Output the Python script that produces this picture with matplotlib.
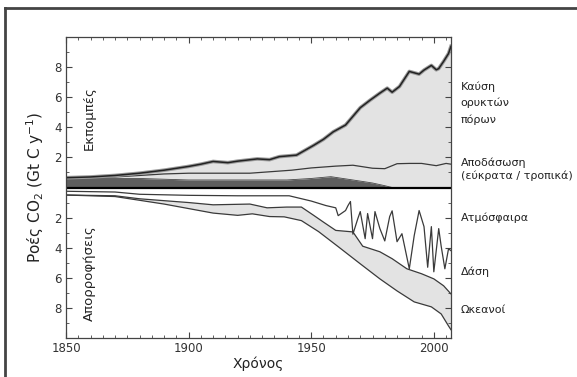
import numpy as np
import matplotlib
matplotlib.use('Agg')
import matplotlib.pyplot as plt
from matplotlib.lines import Line2D
from matplotlib.ticker import MultipleLocator, FixedLocator, FuncFormatter

# emissions (Gt C / yr)
TOTAL_YEARS = [1850, 1860, 1870, 1880, 1890, 1900, 1905, 1910, 1916, 1920, 1928, 1933, 1937,
               1944, 1951, 1955, 1959, 1964, 1970, 1974, 1978, 1981, 1983, 1986, 1990, 1994,
               1996, 1999, 2001, 2002, 2004, 2006, 2007]
TOTAL = [0.65, 0.7, 0.8, 0.95, 1.15, 1.4, 1.55, 1.73, 1.65, 1.75, 1.9, 1.85, 2.05,
         2.15, 2.8, 3.2, 3.7, 4.15, 5.3, 5.8, 6.27, 6.6, 6.33, 6.71, 7.71, 7.53,
         7.8, 8.11, 7.82, 7.9, 8.38, 8.9, 9.38]

LANDUSE_YEARS = [1850, 1870, 1880, 1890, 1900, 1910, 1925, 1942, 1950, 1960, 1967, 1975, 1980,
                 1985, 1990, 1995, 2001, 2005, 2007]
LANDUSE = [0.65, 0.7, 0.8, 0.9, 0.95, 0.95, 0.95, 1.15, 1.3, 1.42, 1.48, 1.28, 1.25,
           1.58, 1.6, 1.6, 1.45, 1.6, 1.55]

TEMPERATE_YEARS = [1850, 1880, 1900, 1940, 1950, 1958, 1967, 1975, 1980, 1983, 2007]
TEMPERATE = [0.6, 0.6, 0.5, 0.5, 0.6, 0.72, 0.5, 0.3, 0.12, 0.0, 0.0]

# sinks (negative)
ATM_YEARS = [1850, 1870, 1880, 1900, 1920, 1941, 1950, 1956, 1960, 1961, 1964, 1965, 1966,
             1967, 1969, 1970, 1972, 1973, 1975, 1976, 1978, 1980, 1982, 1983, 1985, 1987,
             1990, 1992, 1994, 1996, 1997.5, 1999, 2000, 2002, 2003, 2004.5, 2006, 2007]
ATM = [-0.25, -0.3, -0.45, -0.52, -0.55, -0.55, -0.9, -1.2, -1.35, -1.87, -1.53, -1.2, -0.93,
       -3.1, -2.07, -1.6, -3.4, -1.73, -3.4, -1.6, -2.73, -3.55, -1.93, -1.55, -3.6, -3.07,
       -5.4, -3.2, -1.53, -2.6, -5.3, -2.6, -5.6, -2.73, -3.9, -5.4, -4.07, -4.2]

LAND_YEARS = [1850, 1870, 1880, 1900, 1910, 1925, 1932, 1940, 1946, 1951, 1955, 1960, 1967,
              1971, 1978, 1983, 1989, 1995, 2000, 2004, 2007]
LAND = [-0.5, -0.55, -0.75, -1.0, -1.15, -1.1, -1.35, -1.3, -1.3, -1.85, -2.3, -2.85, -2.95,
        -3.9, -4.27, -4.73, -5.4, -5.73, -6.07, -6.53, -7.07]

OCEAN_YEARS = [1850, 1870, 1880, 1890, 1900, 1910, 1920, 1926, 1933, 1939, 1946, 1953, 1961,
               1970, 1978, 1985, 1992, 1999, 2003, 2006, 2007]
OCEAN = [-0.5, -0.6, -0.85, -1.1, -1.4, -1.7, -1.85, -1.75, -1.93, -1.95, -2.2, -2.93, -3.93,
         -5.07, -6.07, -6.87, -7.6, -7.93, -8.4, -9.2, -9.45]

YTICKS = [-8, -6, -4, -2, 2, 4, 6, 8]
XTICKS = [1850, 1900, 1950, 2000]

# right-hand labels, their heights (axes fraction) and line spacing
RIGHT_LABELS = ['Καύση\nορυκτών\nπόρων', 'Αποδάσωση\n(εύκρατα / τροπικά)',
                'Ατμόσφαιρα', 'Δάση', 'Ωκεανοί']
RIGHT_POS = [0.78, 0.562, 0.4, 0.22, 0.093]
RIGHT_SPACING = [1.75, 1.3, 1.2, 1.2, 1.2]

LINE = '#3a3a3a'
LIGHT = '#e3e3e3'
DARK = '#5e5e5e'


def poly(ax, x1, y1, x2, y2, color):
    xs = np.concatenate([x1, x2[::-1]])
    ys = np.concatenate([y1, y2[::-1]])
    ax.fill(xs, ys, color=color, lw=0)


def main():
    fig = plt.figure(figsize=(5.77, 3.77), dpi=100)
    ax = fig.add_axes([0.1144, 0.1034, 0.6672, 0.7985])

    ty, tv = np.array(TOTAL_YEARS), np.array(TOTAL)
    ly, lv = np.array(LANDUSE_YEARS), np.array(LANDUSE)
    my, mv = np.array(TEMPERATE_YEARS), np.array(TEMPERATE)
    ay, av = np.array(ATM_YEARS), np.array(ATM)
    dy, dv = np.array(LAND_YEARS), np.array(LAND)
    oy, ov = np.array(OCEAN_YEARS), np.array(OCEAN)

    # emissions
    poly(ax, my, mv, ty, tv, LIGHT)
    ax.fill_between(my, 0, mv, color=DARK, lw=0)
    ax.plot(my, mv, color='#444444', lw=0.6)
    ax.plot(ly, lv, color=LINE, lw=0.9)
    ax.plot(ty, tv, color='#9a9a9a', lw=2.6)
    ax.plot(ty, tv, color='#222222', lw=1.1)

    # sinks
    poly(ax, dy, dv, oy, ov, LIGHT)
    ax.plot(ay, av, color=LINE, lw=0.9)
    ax.plot(dy, dv, color=LINE, lw=0.9)
    ax.plot(oy, ov, color=LINE, lw=0.9)

    ax.axhline(0, color='black', lw=1.6)

    ax.set_xlim(1850, 2007)
    ax.set_ylim(-10, 10)

    ax.xaxis.set_major_locator(FixedLocator(XTICKS))
    ax.xaxis.set_minor_locator(MultipleLocator(5))
    ax.yaxis.set_major_locator(FixedLocator(YTICKS))
    ax.yaxis.set_minor_locator(MultipleLocator(1))
    ax.yaxis.set_major_formatter(FuncFormatter(lambda v, p: '%d' % abs(v)))
    ax.tick_params(which='both', direction='in', top=True, right=True,
                   colors='#444444', labelcolor='#333333', labelsize=8.5, pad=3)
    ax.tick_params(which='major', length=4)
    ax.tick_params(which='minor', length=2.5)
    for s in ax.spines.values():
        s.set_color('#444444')
        s.set_linewidth(0.9)

    ax.set_xlabel('Χρόνος', fontsize=10, color='#222222', labelpad=1)
    ax.set_ylabel('Ροές CO$_2$ (Gt C y$^{\\mathregular{-1}}$)', fontsize=11, color='#222222', labelpad=6)

    ax.text(1857, 4.6, 'Εκπομπές', rotation=90, fontsize=9.5, color='#222222', ha='left', va='center')
    ax.text(1857, -5.67, 'Απορροφήσεις', rotation=90, fontsize=9.5, color='#222222', ha='left', va='center')

    for label, pos, sp in zip(RIGHT_LABELS, RIGHT_POS, RIGHT_SPACING):
        ax.text(1.025, pos, label, fontsize=8, color='#222222', ha='left', va='center',
                transform=ax.transAxes, linespacing=sp, clip_on=False)

    # outer frame (left and top edges)
    fig.add_artist(Line2D([5 / 577, 5 / 577], [0, 1 - 8 / 377], color='#444444', lw=2))
    fig.add_artist(Line2D([5 / 577, 1], [1 - 8 / 377, 1 - 8 / 377], color='#444444', lw=2))

    fig.savefig('out.png', dpi=100)


if __name__ == '__main__':
    main()
